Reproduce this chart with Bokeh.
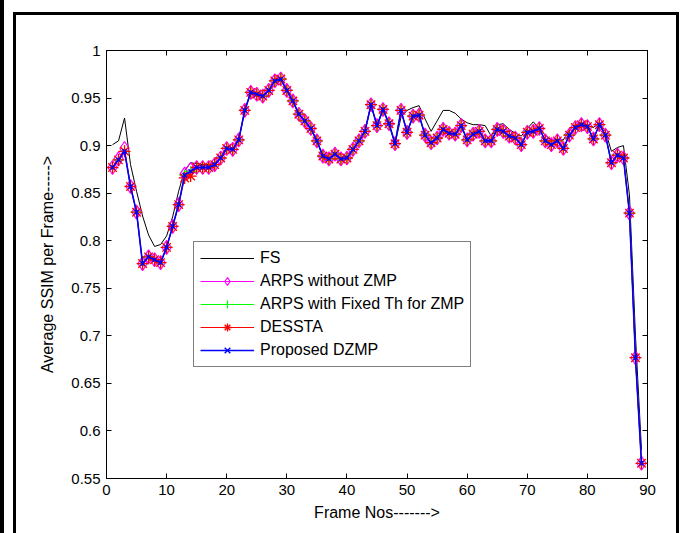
from bokeh.plotting import figure
from bokeh.models import LinearAxis, FixedTicker, Range1d
from bokeh.embed import file_html
from bokeh.resources import INLINE

# ---------------- data ----------------
frames = list(range(1, 90))

fs = [0.901, 0.905, 0.929, 0.880, 0.852, 0.826, 0.806, 0.794, 0.796, 0.805,
      0.825, 0.852, 0.874, 0.882, 0.881, 0.880, 0.880, 0.882, 0.887, 0.897,
      0.896, 0.906, 0.937, 0.956, 0.954, 0.952, 0.958, 0.968, 0.970, 0.958,
      0.947, 0.933, 0.926, 0.918, 0.905, 0.889, 0.886, 0.891, 0.886, 0.887,
      0.896, 0.905, 0.915, 0.943, 0.921, 0.938, 0.923, 0.902, 0.930, 0.937,
      0.940, 0.942, 0.928, 0.915, 0.926, 0.937, 0.937, 0.934, 0.928, 0.924,
      0.922, 0.922, 0.921, 0.910, 0.922, 0.923, 0.917, 0.913, 0.910, 0.918,
      0.925, 0.918, 0.911, 0.906, 0.906, 0.906, 0.916, 0.922, 0.924, 0.921,
      0.919, 0.924, 0.915, 0.894, 0.898, 0.900, 0.848, 0.700, 0.580]

arps_no_zmp = [0.877, 0.886, 0.897, 0.857, 0.830, 0.776, 0.783, 0.780, 0.777, 0.793,
               0.815, 0.838, 0.870, 0.875, 0.877, 0.877, 0.877, 0.880, 0.887, 0.897,
               0.896, 0.906, 0.937, 0.956, 0.954, 0.952, 0.958, 0.968, 0.970, 0.958,
               0.947, 0.933, 0.926, 0.918, 0.905, 0.889, 0.886, 0.891, 0.886, 0.887,
               0.896, 0.905, 0.915, 0.943, 0.921, 0.938, 0.923, 0.902, 0.937, 0.914,
               0.931, 0.932, 0.911, 0.903, 0.908, 0.917, 0.913, 0.912, 0.921, 0.906,
               0.912, 0.915, 0.905, 0.905, 0.917, 0.915, 0.910, 0.908, 0.901, 0.914,
               0.915, 0.918, 0.905, 0.901, 0.905, 0.897, 0.911, 0.919, 0.922, 0.920,
               0.907, 0.922, 0.911, 0.882, 0.890, 0.887, 0.829, 0.677, 0.566]

arps_fixed_th = [0.877, 0.885, 0.894, 0.857, 0.830, 0.776, 0.783, 0.780, 0.777, 0.793,
                 0.815, 0.838, 0.869, 0.873, 0.877, 0.877, 0.877, 0.880, 0.887, 0.897,
                 0.896, 0.906, 0.937, 0.956, 0.954, 0.952, 0.958, 0.968, 0.970, 0.958,
                 0.947, 0.933, 0.926, 0.918, 0.905, 0.889, 0.886, 0.891, 0.886, 0.887,
                 0.896, 0.905, 0.915, 0.943, 0.921, 0.938, 0.923, 0.902, 0.937, 0.914,
                 0.931, 0.932, 0.911, 0.903, 0.908, 0.917, 0.913, 0.912, 0.921, 0.906,
                 0.912, 0.915, 0.905, 0.905, 0.917, 0.915, 0.910, 0.908, 0.901, 0.914,
                 0.915, 0.918, 0.905, 0.901, 0.905, 0.897, 0.911, 0.919, 0.922, 0.920,
                 0.907, 0.922, 0.911, 0.882, 0.890, 0.887, 0.829, 0.677, 0.566]

dessta = [0.877, 0.885, 0.894, 0.857, 0.830, 0.776, 0.783, 0.780, 0.777, 0.793,
          0.815, 0.838, 0.866, 0.868, 0.877, 0.877, 0.877, 0.880, 0.887, 0.897,
          0.896, 0.906, 0.937, 0.956, 0.954, 0.952, 0.958, 0.968, 0.970, 0.958,
          0.947, 0.933, 0.926, 0.918, 0.905, 0.889, 0.886, 0.891, 0.886, 0.887,
          0.896, 0.905, 0.915, 0.943, 0.921, 0.938, 0.923, 0.902, 0.937, 0.914,
          0.931, 0.932, 0.911, 0.903, 0.908, 0.917, 0.913, 0.912, 0.921, 0.906,
          0.912, 0.915, 0.905, 0.905, 0.917, 0.915, 0.910, 0.908, 0.901, 0.914,
          0.915, 0.918, 0.905, 0.901, 0.905, 0.897, 0.911, 0.919, 0.922, 0.920,
          0.907, 0.922, 0.911, 0.882, 0.890, 0.887, 0.829, 0.677, 0.566]

proposed_dzmp = [0.877, 0.885, 0.894, 0.857, 0.830, 0.776, 0.783, 0.780, 0.777, 0.793,
                 0.815, 0.838, 0.869, 0.873, 0.877, 0.877, 0.877, 0.880, 0.887, 0.897,
                 0.896, 0.906, 0.937, 0.956, 0.954, 0.952, 0.958, 0.968, 0.970, 0.958,
                 0.947, 0.933, 0.926, 0.918, 0.905, 0.889, 0.886, 0.891, 0.886, 0.887,
                 0.896, 0.905, 0.915, 0.943, 0.921, 0.938, 0.923, 0.902, 0.937, 0.914,
                 0.931, 0.932, 0.911, 0.903, 0.908, 0.917, 0.913, 0.912, 0.921, 0.906,
                 0.912, 0.915, 0.905, 0.905, 0.917, 0.915, 0.910, 0.908, 0.901, 0.914,
                 0.915, 0.918, 0.905, 0.901, 0.905, 0.897, 0.911, 0.919, 0.922, 0.920,
                 0.907, 0.922, 0.911, 0.882, 0.890, 0.887, 0.829, 0.677, 0.566]

x_ticks = [0, 10, 20, 30, 40, 50, 60, 70, 80, 90]
y_ticks = [0.55, 0.6, 0.65, 0.7, 0.75, 0.8, 0.85, 0.9, 0.95, 1.0]
y_tick_labels = ["0.55", "0.6", "0.65", "0.7", "0.75", "0.8", "0.85", "0.9", "0.95", "1"]

FONT = "Liberation Sans"

# page frame (thin black rules around the figure, as in the reference image)
frame_css = ", ".join([
    "inset 4px 0 0 0 black",      # far-left rule
    "inset -2px 0 0 0 white",
    "inset 0 12px 0 0 white",
    "inset 13px 0 0 0 white",
    "inset 16px 0 0 0 black",     # box left edge
    "inset -5px 0 0 0 black",     # box right edge
    "inset 0 15px 0 0 black",     # box top edge
])

p = figure(width=681, height=533, output_backend="svg", toolbar_location=None,
           x_range=Range1d(0, 90), y_range=Range1d(0.55, 1.0),
           min_border_left=106, min_border_right=34, min_border_top=50,
           min_border_bottom=55, background_fill_color="white",
           border_fill_color=None, styles={"box-shadow": frame_css})
p.grid.visible = False
p.outline_line_color = "black"
p.outline_line_width = 1

# main axes
xa = p.xaxis[0]
ya = p.yaxis[0]
xa.ticker = FixedTicker(ticks=x_ticks)
ya.ticker = FixedTicker(ticks=y_ticks)
ya.major_label_overrides = {t: l for t, l in zip(y_ticks, y_tick_labels)}
for ax in (xa, ya):
    ax.major_tick_in = 5
    ax.major_tick_out = 0
    ax.minor_tick_line_color = None
    ax.axis_line_color = "black"
    ax.major_tick_line_color = "black"
    ax.major_label_text_font = FONT
    ax.major_label_text_font_size = "15px"
    ax.major_label_text_color = "black"
    ax.axis_label_text_font = FONT
    ax.axis_label_text_font_size = "16px"
    ax.axis_label_text_font_style = "normal"
    ax.axis_label_text_color = "black"
    ax.major_label_standoff = 6
xa.axis_label = "Frame Nos------->"
ya.axis_label = "Average SSIM per Frame----->"
xa.axis_label_standoff = 6
ya.axis_label_standoff = 12

# mirrored ticks on top and right (labels not drawn)
for loc, tk in (("above", x_ticks), ("right", y_ticks)):
    ax = LinearAxis(ticker=FixedTicker(ticks=tk), major_tick_in=5, major_tick_out=0,
                    minor_tick_line_color=None, major_label_text_color=None,
                    major_label_text_alpha=0,
                    axis_line_color="black", major_tick_line_color="black")
    p.add_layout(ax, loc)

# series
p.line(frames, fs, line_color="black", line_width=1, legend_label="FS")

p.line(frames, arps_no_zmp, line_color="magenta", line_width=1,
       legend_label="ARPS without ZMP")
p.scatter(frames, arps_no_zmp, marker="diamond", size=14, fill_color=None,
          line_color="magenta", line_width=1.2, legend_label="ARPS without ZMP")

p.line(frames, arps_fixed_th, line_color="#00ff00", line_width=1,
       legend_label="ARPS with Fixed Th for ZMP")
p.scatter(frames, arps_fixed_th, marker="cross", size=11, line_color="#00ff00",
          line_width=1.2, legend_label="ARPS with Fixed Th for ZMP")

p.line(frames, dessta, line_color="red", line_width=1, legend_label="DESSTA")
p.scatter(frames, dessta, marker="asterisk", size=12, line_color="red",
          line_width=1.3, legend_label="DESSTA")

p.line(frames, proposed_dzmp, line_color="blue", line_width=1.6,
       legend_label="Proposed DZMP")
p.scatter(frames, proposed_dzmp, marker="x", size=6, line_color="blue",
          line_width=1.4, legend_label="Proposed DZMP")

lg = p.legend[0]
lg.location = (87, 111)
lg.label_text_font = FONT
lg.label_text_font_size = "16px"
lg.label_text_color = "black"
lg.glyph_width = 54
lg.glyph_height = 20
lg.label_height = 20
lg.spacing = 3
lg.padding = 6
lg.margin = 0
lg.label_standoff = 6
lg.border_line_color = "black"
lg.border_line_width = 1
lg.background_fill_alpha = 1

open("out.html", "w").write(file_html(p, INLINE))
